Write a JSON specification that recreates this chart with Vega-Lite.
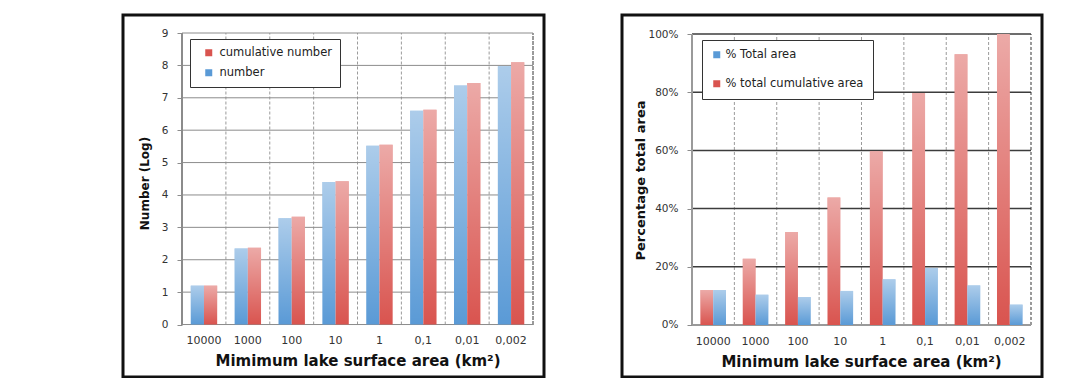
{
  "$schema": "https://vega.github.io/schema/vega-lite/v6.json",
  "padding": {"left": 121, "top": 13, "right": 0, "bottom": 0},
  "background": "white",
  "spacing": 74,
  "resolve": {"scale": {"color": "independent"}, "legend": {"color": "independent"}},
  "config": {
    "font": "DejaVu Sans",
    "view": {"stroke": "#111111", "strokeWidth": 3},
    "axis": {"labelColor": "#333333", "titleColor": "#111111", "labelFont": "DejaVu Sans", "titleFont": "DejaVu Sans", "grid": false, "domain": false},
    "legend": {"labelFont": "DejaVu Sans", "labelColor": "#222222", "strokeColor": "#333333", "fillColor": "white", "symbolType": "square", "symbolSize": 49, "symbolStrokeWidth": 0, "title": null}
  },
  "hconcat": [
    {
      "width": 421,
      "height": 362,
      "data": {"values": [
        {"cat": "10000", "series": "number", "value": 1.2},
        {"cat": "10000", "series": "cumulative number", "value": 1.2},
        {"cat": "1000", "series": "number", "value": 2.35},
        {"cat": "1000", "series": "cumulative number", "value": 2.37},
        {"cat": "100", "series": "number", "value": 3.28},
        {"cat": "100", "series": "cumulative number", "value": 3.33},
        {"cat": "10", "series": "number", "value": 4.4},
        {"cat": "10", "series": "cumulative number", "value": 4.42},
        {"cat": "1", "series": "number", "value": 5.52},
        {"cat": "1", "series": "cumulative number", "value": 5.55},
        {"cat": "0,1", "series": "number", "value": 6.6},
        {"cat": "0,1", "series": "cumulative number", "value": 6.63},
        {"cat": "0,01", "series": "number", "value": 7.38},
        {"cat": "0,01", "series": "cumulative number", "value": 7.46},
        {"cat": "0,002", "series": "number", "value": 7.97},
        {"cat": "0,002", "series": "cumulative number", "value": 8.1}
      ]},
      "layer": [
        {
          "transform": [{"filter": "datum.series === 'number'"}],
          "mark": {"type": "rule", "color": "#9a9a9a", "strokeDash": [3, 2], "strokeWidth": 1},
          "encoding": {
            "x": {
              "field": "cat", "type": "nominal", "bandPosition": 0,
              "scale": {"domain": ["10000", "1000", "100", "10", "1", "0,1", "0,01", "0,002"], "paddingInner": 0, "paddingOuter": 0.798, "align": 0.843},
              "axis": {"title": "Mimimum lake surface area (km²)", "offset": -52.5, "ticks": false, "labelAngle": 0, "labelFontSize": 11, "labelPadding": 10, "titleFontSize": 15, "titleFontWeight": "bold", "titlePadding": 8, "titleX": 234.5, "bandPosition": 0.5}
            },
            "y": {
              "datum": 0, "type": "quantitative",
              "scale": {"domain": [-1.62, 9.556], "nice": false, "zero": false},
              "axis": {"values": [0, 1, 2, 3, 4, 5, 6, 7, 8, 9], "offset": -59, "title": "Number (Log)", "titleFontSize": 12, "titleFontWeight": "bold", "titlePadding": 10, "titleY": 168, "labelFontSize": 10.5, "labelPadding": 9, "tickSize": 5, "tickColor": "#8c8c8c"}
            },
            "y2": {"datum": 9}
          }
        },
        {
          "mark": {"type": "rule", "color": "#9a9a9a", "strokeDash": [3, 2], "strokeWidth": 1},
          "encoding": {
            "x": {"datum": "0,002", "type": "nominal", "bandPosition": 1},
            "y": {"datum": 0, "type": "quantitative"},
            "y2": {"datum": 9}
          }
        },
        {
          "data": {"values": [{"v": 0}, {"v": 1}, {"v": 2}, {"v": 3}, {"v": 4}, {"v": 5}, {"v": 6}, {"v": 7}, {"v": 8}, {"v": 9}]},
          "mark": {"type": "rule", "color": "#8c8c8c", "strokeWidth": 1},
          "encoding": {
            "y": {"field": "v", "type": "quantitative"},
            "x": {"datum": "10000", "type": "nominal", "bandPosition": 0},
            "x2": {"datum": "0,002", "bandPosition": 1}
          }
        },
        {
          "transform": [{"filter": "datum.series === 'number'"}],
          "mark": {"type": "bar", "width": {"band": 0.301}, "xOffset": -6.6},
          "encoding": {
            "x": {"field": "cat", "type": "nominal"},
            "y": {"field": "value", "type": "quantitative"},
            "y2": {"datum": 0},
            "color": {
              "field": "series", "type": "nominal",
              "scale": {"domain": ["cumulative number", "number"], "range": ["#D9544F", "#5A9AD6"]},
              "legend": {"orient": "none", "legendX": 67, "legendY": 24, "padding": 8, "rowPadding": 7, "symbolOffset": 5, "labelOffset": 5, "labelFontSize": 11.5}
            }
          }
        },
        {
          "transform": [{"filter": "datum.series === 'cumulative number'"}],
          "mark": {"type": "bar", "width": {"band": 0.301}, "xOffset": 6.6},
          "encoding": {
            "x": {"field": "cat", "type": "nominal"},
            "y": {"field": "value", "type": "quantitative"},
            "y2": {"datum": 0},
            "color": {"field": "series", "type": "nominal"}
          }
        },
        {
          "transform": [{"filter": "datum.series === 'number'"}],
          "mark": {"type": "bar", "width": {"band": 0.301}, "xOffset": -6.6, "fill": {"gradient": "linear", "x1": 0, "y1": 0, "x2": 0, "y2": 1, "stops": [{"offset": 0, "color": "rgba(255,255,255,0.5)"}, {"offset": 1, "color": "rgba(255,255,255,0)"}]}},
          "encoding": {
            "x": {"field": "cat", "type": "nominal"},
            "y": {"field": "value", "type": "quantitative"},
            "y2": {"datum": 0}
          }
        },
        {
          "transform": [{"filter": "datum.series === 'cumulative number'"}],
          "mark": {"type": "bar", "width": {"band": 0.301}, "xOffset": 6.6, "fill": {"gradient": "linear", "x1": 0, "y1": 0, "x2": 0, "y2": 1, "stops": [{"offset": 0, "color": "rgba(255,255,255,0.5)"}, {"offset": 1, "color": "rgba(255,255,255,0)"}]}},
          "encoding": {
            "x": {"field": "cat", "type": "nominal"},
            "y": {"field": "value", "type": "quantitative"},
            "y2": {"datum": 0}
          }
        },
        {
          "mark": {"type": "rule", "color": "#8c8c8c", "strokeWidth": 1},
          "encoding": {
            "x": {"datum": "10000", "type": "nominal", "bandPosition": 0},
            "y": {"datum": 0, "type": "quantitative"},
            "y2": {"datum": 9}
          }
        }
      ]
    },
    {
      "width": 420,
      "height": 362,
      "data": {"values": [
        {"cat": "10000", "series": "% total cumulative area", "value": 0.12},
        {"cat": "10000", "series": "% Total area", "value": 0.12},
        {"cat": "1000", "series": "% total cumulative area", "value": 0.228},
        {"cat": "1000", "series": "% Total area", "value": 0.104},
        {"cat": "100", "series": "% total cumulative area", "value": 0.32},
        {"cat": "100", "series": "% Total area", "value": 0.096},
        {"cat": "10", "series": "% total cumulative area", "value": 0.438},
        {"cat": "10", "series": "% Total area", "value": 0.117},
        {"cat": "1", "series": "% total cumulative area", "value": 0.597},
        {"cat": "1", "series": "% Total area", "value": 0.157},
        {"cat": "0,1", "series": "% total cumulative area", "value": 0.797},
        {"cat": "0,1", "series": "% Total area", "value": 0.196},
        {"cat": "0,01", "series": "% total cumulative area", "value": 0.93},
        {"cat": "0,01", "series": "% Total area", "value": 0.136},
        {"cat": "0,002", "series": "% total cumulative area", "value": 1.0},
        {"cat": "0,002", "series": "% Total area", "value": 0.07}
      ]},
      "layer": [
        {
          "transform": [{"filter": "datum.series === '% Total area'"}],
          "mark": {"type": "rule", "color": "#9a9a9a", "strokeDash": [3, 2], "strokeWidth": 1},
          "encoding": {
            "x": {
              "field": "cat", "type": "nominal", "bandPosition": 0,
              "scale": {"domain": ["10000", "1000", "100", "10", "1", "0,1", "0,01", "0,002"], "paddingInner": 0, "paddingOuter": 0.956, "align": 0.864},
              "axis": {"title": "Minimum lake surface area (km²)", "offset": -52, "ticks": false, "labelAngle": 0, "labelFontSize": 11, "labelPadding": 10, "titleFontSize": 15, "titleFontWeight": "bold", "titlePadding": 8, "titleX": 239, "bandPosition": 0.5}
            },
            "y": {
              "datum": 0, "type": "quantitative",
              "scale": {"domain": [-0.1787, 1.0653], "nice": false, "zero": false},
              "axis": {"values": [0, 0.2, 0.4, 0.6, 0.8, 1.0], "format": ".0%", "offset": -70, "title": "Percentage total area", "titleFontSize": 13, "titleFontWeight": "bold", "titlePadding": 0, "titleY": 165, "labelFontSize": 10.5, "labelPadding": 9, "tickSize": 5, "tickColor": "#8c8c8c"}
            },
            "y2": {"datum": 1}
          }
        },
        {
          "mark": {"type": "rule", "color": "#9a9a9a", "strokeDash": [3, 2], "strokeWidth": 1},
          "encoding": {
            "x": {"datum": "0,002", "type": "nominal", "bandPosition": 1},
            "y": {"datum": 0, "type": "quantitative"},
            "y2": {"datum": 1}
          }
        },
        {
          "data": {"values": [{"v": 0.2}, {"v": 0.4}, {"v": 0.6}, {"v": 0.8}, {"v": 1.0}]},
          "mark": {"type": "rule", "color": "#3c3c3c", "strokeWidth": 1.5},
          "encoding": {
            "y": {"field": "v", "type": "quantitative"},
            "x": {"datum": "10000", "type": "nominal", "bandPosition": 0},
            "x2": {"datum": "0,002", "bandPosition": 1}
          }
        },
        {
          "mark": {"type": "rule", "color": "#9a9a9a", "strokeWidth": 1},
          "encoding": {
            "y": {"datum": 0, "type": "quantitative"},
            "x": {"datum": "10000", "type": "nominal", "bandPosition": 0},
            "x2": {"datum": "0,002", "bandPosition": 1}
          }
        },
        {
          "transform": [{"filter": "datum.series === '% total cumulative area'"}],
          "mark": {"type": "bar", "width": {"band": 0.302}, "xOffset": -6.4},
          "encoding": {
            "x": {"field": "cat", "type": "nominal"},
            "y": {"field": "value", "type": "quantitative"},
            "y2": {"datum": 0},
            "color": {
              "field": "series", "type": "nominal",
              "scale": {"domain": ["% Total area", "% total cumulative area"], "range": ["#5A9AD6", "#D9544F"]},
              "legend": {"orient": "none", "legendX": 80, "legendY": 25, "padding": 9, "rowPadding": 16, "symbolOffset": 0, "labelOffset": 3, "labelFontSize": 11.5}
            }
          }
        },
        {
          "transform": [{"filter": "datum.series === '% Total area'"}],
          "mark": {"type": "bar", "width": {"band": 0.302}, "xOffset": 6.4},
          "encoding": {
            "x": {"field": "cat", "type": "nominal"},
            "y": {"field": "value", "type": "quantitative"},
            "y2": {"datum": 0},
            "color": {"field": "series", "type": "nominal"}
          }
        },
        {
          "transform": [{"filter": "datum.series === '% total cumulative area'"}],
          "mark": {"type": "bar", "width": {"band": 0.302}, "xOffset": -6.4, "fill": {"gradient": "linear", "x1": 0, "y1": 0, "x2": 0, "y2": 1, "stops": [{"offset": 0, "color": "rgba(255,255,255,0.5)"}, {"offset": 1, "color": "rgba(255,255,255,0)"}]}},
          "encoding": {
            "x": {"field": "cat", "type": "nominal"},
            "y": {"field": "value", "type": "quantitative"},
            "y2": {"datum": 0}
          }
        },
        {
          "transform": [{"filter": "datum.series === '% Total area'"}],
          "mark": {"type": "bar", "width": {"band": 0.302}, "xOffset": 6.4, "fill": {"gradient": "linear", "x1": 0, "y1": 0, "x2": 0, "y2": 1, "stops": [{"offset": 0, "color": "rgba(255,255,255,0.5)"}, {"offset": 1, "color": "rgba(255,255,255,0)"}]}},
          "encoding": {
            "x": {"field": "cat", "type": "nominal"},
            "y": {"field": "value", "type": "quantitative"},
            "y2": {"datum": 0}
          }
        },
        {
          "mark": {"type": "rule", "color": "#9a9a9a", "strokeWidth": 1},
          "encoding": {
            "x": {"datum": "10000", "type": "nominal", "bandPosition": 0},
            "y": {"datum": 0, "type": "quantitative"},
            "y2": {"datum": 1}
          }
        }
      ]
    }
  ]
}
